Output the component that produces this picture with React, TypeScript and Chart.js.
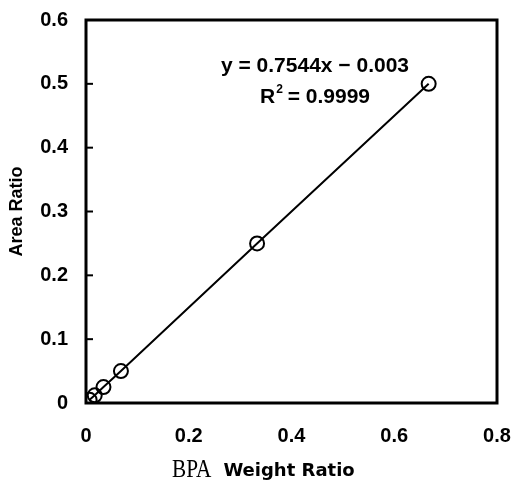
import { useEffect, useRef } from "react";
import { Chart, registerables } from "chart.js";

Chart.register(...registerables);

const weightRatio = [0.007, 0.017, 0.034, 0.068, 0.333, 0.667];
const areaRatio = [0.005, 0.012, 0.025, 0.05, 0.25, 0.5];
const xTicks = [0, 0.2, 0.4, 0.6, 0.8];
const yTicks = [0, 0.1, 0.2, 0.3, 0.4, 0.5, 0.6];
const equationText = "y = 0.7544x \u2212 0.003";
const rSquaredText = " = 0.9999";
const yTitle = "Area Ratio";
const xTitleA = "BPA";
const xTitleB = "Weight Ratio";

const SANS = "'Liberation Sans', Arial, sans-serif";
const WIDE = "'DejaVu Sans', Verdana, sans-serif";
const SERIF = "'Liberation Serif', 'DejaVu Serif', serif";

const framePlugin = {
  id: "frame",
  afterDraw(chart: any) {
    const { ctx, chartArea, scales } = chart;
    const { left, right, top, bottom } = chartArea;
    ctx.save();
    ctx.strokeStyle = "#000";
    ctx.lineWidth = 3;
    ctx.strokeRect(left, top, right - left, bottom - top);
    ctx.lineWidth = 2;
    for (const v of yTicks) {
      const y = scales.y.getPixelForValue(v);
      ctx.beginPath();
      ctx.moveTo(left, y);
      ctx.lineTo(left + 7, y);
      ctx.stroke();
    }
    // equation
    ctx.fillStyle = "#000";
    ctx.textBaseline = "middle";
    ctx.textAlign = "center";
    const eqFont = `bold 21px ${SANS}`;
    const supFont = `bold 12px ${SANS}`;
    ctx.font = eqFont;
    ctx.fillText(equationText, 315, 66);
    const rW = ctx.measureText("R").width;
    const restW = ctx.measureText(rSquaredText).width;
    ctx.font = supFont;
    const supW = ctx.measureText("2").width;
    const total = rW + supW + restW;
    const x0 = 315 - total / 2;
    ctx.textAlign = "left";
    ctx.font = eqFont;
    ctx.fillText("R", x0, 97);
    ctx.font = supFont;
    ctx.fillText("2", x0 + rW + 1, 90);
    ctx.font = eqFont;
    ctx.fillText(rSquaredText, x0 + rW + supW, 97);
    // x title
    ctx.textBaseline = "alphabetic";
    ctx.font = `25px ${SERIF}`;
    const sx = 0.85;
    const aW = ctx.measureText(xTitleA).width * sx;
    ctx.save();
    ctx.translate(172, 477);
    ctx.scale(sx, 1);
    ctx.fillText(xTitleA, 0, 0);
    ctx.restore();
    ctx.font = `bold 18px ${WIDE}`;
    ctx.fillText(xTitleB, 172 + aW + 12, 476);
    ctx.restore();
  },
};

export default function App() {
  const ref = useRef<HTMLCanvasElement>(null);
  useEffect(() => {
    if (!ref.current) return;
    const chart = new Chart(ref.current, {
      type: "scatter",
      data: {
        datasets: [
          {
            data: weightRatio.map((x, i) => ({ x, y: areaRatio[i] })),
            showLine: true,
            borderColor: "#000",
            borderWidth: 2,
            pointRadius: 7,
            pointBorderWidth: 2,
            pointBackgroundColor: "rgba(0,0,0,0)",
            pointBorderColor: "#000",
          },
        ],
      },
      options: {
        animation: false,
        responsive: false,
        maintainAspectRatio: false,
        layout: { padding: { left: 0, right: 17, top: 20, bottom: 0 } },
        plugins: { legend: { display: false }, tooltip: { enabled: false } },
        scales: {
          x: {
            type: "linear",
            min: 0,
            max: 0.8,
            afterBuildTicks: (s: any) => {
              s.ticks = xTicks.map((value) => ({ value }));
            },
            afterFit: (s: any) => {
              s.height = 81;
              s.paddingLeft = 0;
              s.paddingRight = 0;
            },
            grid: { display: false, drawTicks: false },
            border: { display: false },
            ticks: {
              color: "#000",
              padding: 21,
              maxRotation: 0,
              font: { family: SANS, size: 20, weight: "bold" },
              callback: (v: any) => String(v),
            },
          },
          y: {
            type: "linear",
            min: 0,
            max: 0.6,
            afterBuildTicks: (s: any) => {
              s.ticks = yTicks.map((value) => ({ value }));
            },
            afterFit: (s: any) => {
              s.width = 86;
              s.paddingTop = 0;
              s.paddingBottom = 0;
            },
            grid: { display: false, drawTicks: false },
            border: { display: false },
            ticks: {
              color: "#000",
              padding: 18,
              font: { family: SANS, size: 20, weight: "bold" },
              callback: (v: any) => String(v),
            },
            title: {
              display: true,
              text: yTitle,
              color: "#000",
              font: { family: SANS, size: 18, weight: "bold" },
              padding: { top: 6, bottom: 0 },
            },
          },
        },
      },
      plugins: [framePlugin],
    });
    return () => chart.destroy();
  }, []);
  return (
    <div style={{ position: "fixed", left: 0, top: 0, width: 514, height: 484, background: "#fff" }}>
      <canvas ref={ref} width={514} height={484} style={{ width: 514, height: 484 }} />
    </div>
  );
}
